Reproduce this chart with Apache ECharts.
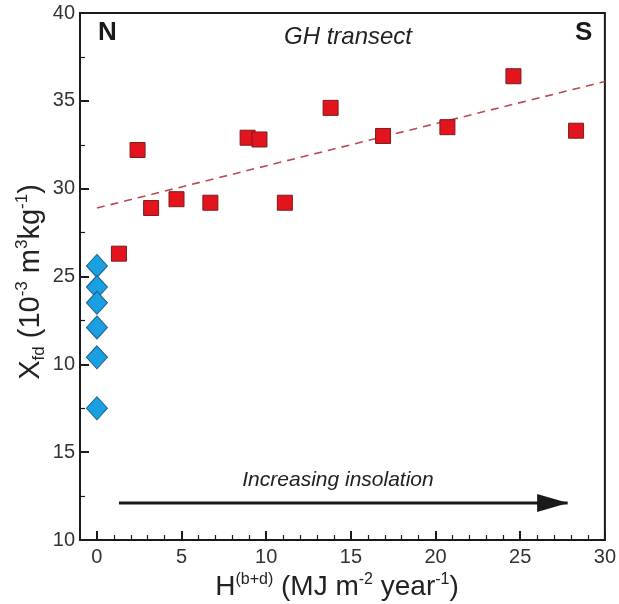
<!DOCTYPE html>
<html><head><meta charset="utf-8">
<script src="https://cdn.jsdelivr.net/npm/echarts@6/dist/echarts.min.js"></script>
<style>html,body{margin:0;padding:0;background:#fff}#c{width:619px;height:604px}</style>
</head><body><div id="c"></div>
<script>
// ---- data ----
const nSitesX = [0, 0, 0, 0, 0, 0];
const nSitesY = [25.6, 24.4, 23.5, 22.1, 20.4, 17.5];
const sSitesX = [1.3, 2.4, 3.2, 4.7, 6.7, 8.9, 9.6, 11.1, 13.8, 16.9, 20.7, 24.6, 28.3];
const sSitesY = [26.3, 32.2, 28.9, 29.4, 29.2, 32.9, 32.8, 29.2, 34.6, 33.0, 33.5, 36.4, 33.3];
const trendX = [0, 30];
const trendY = [28.9, 36.1];
const arrowX = [1.3, 27.8];
const arrowY = [12.1, 12.1];
const xMajorTicks = [0, 5, 10, 15, 20, 25, 30];
const xMinorTicks = [1,2,3,4,6,7,8,9,11,12,13,14,16,17,18,19,21,22,23,24,26,27,28,29];
const yTickValues = [10, 15, 20, 25, 30, 35, 40];
const yTickLabels = ["10", "15", "10", "25", "30", "35", "40"];

const zip = (a, b) => a.map((v, i) => [v, b[i]]);
const FONT = '"Liberation Sans", Arial, sans-serif';
const chart = echarts.init(document.getElementById('c'), null, {renderer: 'canvas'});

const option = {
  animation: false,
  backgroundColor: '#fff',
  grid: {left: 80, right: 10, top: 13, bottom: 64, show: true, borderColor: '#1a1a1a', borderWidth: 2},
  xAxis: [{
    type: 'value', min: -1, max: 30,
    axisLine: {onZero: false, lineStyle: {color: '#1a1a1a', width: 2}},
    axisTick: {show: true, inside: true, length: 9, lineStyle: {color: '#1a1a1a', width: 2}, customValues: xMajorTicks},
    axisLabel: {customValues: xMajorTicks, color: '#333', fontSize: 20, fontFamily: FONT, margin: 7, showMaxLabel: true},
    splitLine: {show: false}
  }, {
    type: 'value', min: -1, max: 30, position: 'bottom',
    axisLine: {show: false, onZero: false},
    axisTick: {show: true, inside: true, length: 5, lineStyle: {color: '#1a1a1a', width: 1.2}, customValues: xMinorTicks},
    axisLabel: {show: false},
    splitLine: {show: false}
  }],
  yAxis: {
    type: 'value', min: 10, max: 40, interval: 5,
    axisLine: {show: true, onZero: false, lineStyle: {color: '#1a1a1a', width: 2}},
    axisTick: {show: true, inside: true, length: 9, lineStyle: {color: '#1a1a1a', width: 2}},
    minorTick: {show: true, splitNumber: 2, length: 5, lineStyle: {color: '#1a1a1a', width: 1.2}},
    axisLabel: {
      color: '#333', fontSize: 20, fontFamily: FONT, margin: 5,
      formatter: v => { const i = yTickValues.indexOf(v); return i >= 0 ? yTickLabels[i] : ''; }
    },
    splitLine: {show: false}
  },
  series: [
    {
      type: 'line', data: zip(trendX, trendY), symbol: 'none', z: 2,
      lineStyle: {color: '#b84b50', width: 1.6, type: [8, 6]}
    },
    {
      type: 'line', data: zip(arrowX, arrowY), symbol: 'none', z: 3,
      lineStyle: {color: '#1a1a1a', width: 3}
    },
    {
      type: 'scatter', data: [[arrowX[1], arrowY[1]]],
      symbol: 'path://M0,0 L0,18 L31,9 Z', symbolSize: [31, 18], symbolOffset: [-15, 0], z: 4,
      itemStyle: {color: '#1a1a1a', opacity: 1}
    },
    {
      type: 'scatter', data: zip(nSitesX, nSitesY), symbol: 'diamond', symbolSize: [21, 23], z: 5,
      itemStyle: {color: '#1a9fe0', borderColor: '#1d5f86', borderWidth: 1, opacity: 1}
    },
    {
      type: 'scatter', data: zip(sSitesX, sSitesY), symbol: 'rect', symbolSize: 15, z: 5,
      itemStyle: {color: '#e3141e', borderColor: '#7a1c1c', borderWidth: 1, opacity: 1}
    }
  ],
  graphic: [
    {type: 'text', left: 98, top: 20, style: {text: 'N', font: 'bold 26px ' + FONT, fill: '#1a1a1a'}},
    {type: 'text', left: 575, top: 20, style: {text: 'S', font: 'bold 26px ' + FONT, fill: '#1a1a1a'}},
    {type: 'text', x: 348, y: 37, style: {text: 'GH transect', font: 'italic 24px ' + FONT, fill: '#222', align: 'center', verticalAlign: 'middle'}},
    {type: 'text', x: 338, y: 480, style: {text: 'Increasing insolation', font: 'italic 21px ' + FONT, fill: '#222', align: 'center', verticalAlign: 'middle'}},
    {
      type: 'text', x: 337, y: 586,
      style: {
        text: '{m|H}{s|(b+d)}{m| (MJ m}{s|-2}{m| year}{s|-1}{m|)}',
        align: 'center', verticalAlign: 'middle', fill: '#222',
        rich: {
          m: {font: '28px ' + FONT, fill: '#222', lineHeight: 30, verticalAlign: 'bottom'},
          s: {font: '16px ' + FONT, fill: '#222', lineHeight: 30, verticalAlign: 'top', padding: [1, 0, 0, 0]}
        }
      }
    },
    {
      type: 'text', x: 31, y: 282, rotation: Math.PI / 2,
      style: {
        text: '{m|X}{b|fd}{m| (10}{s|-3}{m| m}{s|3}{m|kg}{s|-1}{m|)}',
        align: 'center', verticalAlign: 'middle', fill: '#222',
        rich: {
          m: {font: '29px ' + FONT, fill: '#222', lineHeight: 34, verticalAlign: 'middle'},
          s: {font: '17px ' + FONT, fill: '#222', lineHeight: 34, verticalAlign: 'top'},
          b: {font: '17px ' + FONT, fill: '#222', lineHeight: 34, verticalAlign: 'bottom'}
        }
      }
    }
  ]
};
chart.setOption(option);
</script>
</body></html>
